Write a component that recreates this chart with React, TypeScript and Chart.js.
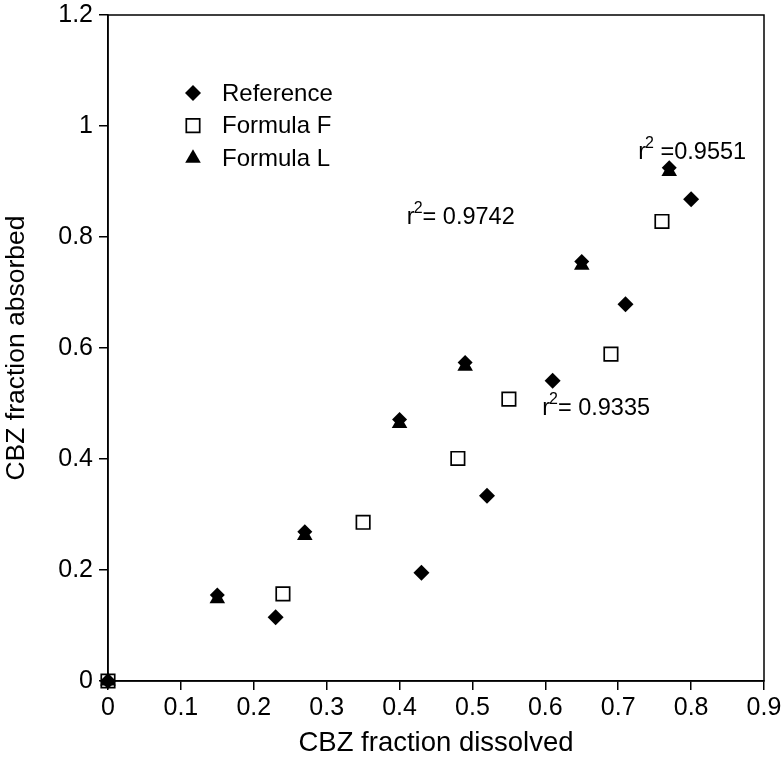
import React, { useEffect, useRef } from "react";
import { Chart, registerables } from "chart.js";

Chart.register(...registerables);

// ---- data ----
const referenceX = [0, 0.23, 0.43, 0.52, 0.61, 0.71, 0.8];
const referenceY = [0, 0.115, 0.195, 0.334, 0.541, 0.679, 0.868];

const formulaFX = [0, 0.24, 0.35, 0.48, 0.55, 0.69, 0.76];
const formulaFY = [0, 0.157, 0.286, 0.401, 0.508, 0.589, 0.828];

const formulaLX = [0, 0.15, 0.27, 0.4, 0.49, 0.65, 0.77];
const formulaLY = [0, 0.148, 0.262, 0.464, 0.567, 0.749, 0.918];

// diamonds drawn over the Formula L triangles in the original figure
const overlapX = [0.15, 0.27, 0.4, 0.49, 0.65, 0.77];
const overlapY = [0.155, 0.269, 0.471, 0.574, 0.756, 0.925];

const xTicks = [0, 0.1, 0.2, 0.3, 0.4, 0.5, 0.6, 0.7, 0.8, 0.9];
const yTicks = [0, 0.2, 0.4, 0.6, 0.8, 1, 1.2];

const legendLabels = ["Reference", "Formula F", "Formula L"];

// r² annotations: anchor (x, baseline y) and the text after the superscript
const annoX = [0.41, 0.7275, 0.5957];
const annoY = [0.823, 0.94, 0.479];
const annoText = ["= 0.9742", " =0.9551", "= 0.9335"];

const FONT = "'Liberation Sans', Arial, Helvetica, sans-serif";

const pts = (xs: number[], ys: number[]) => xs.map((x, i) => ({ x, y: ys[i] }));

export default function App() {
  const ref = useRef<HTMLCanvasElement>(null);

  useEffect(() => {
    document.body.style.margin = "0";
    const canvas = ref.current;
    if (!canvas) return;

    const framePlugin = {
      id: "frame",
      afterDraw(chart: any) {
        const { ctx, chartArea } = chart;
        const { left, top, right, bottom } = chartArea;
        ctx.save();
        ctx.strokeStyle = "#000";
        ctx.lineWidth = 1.5;
        ctx.strokeRect(left, top, right - left, bottom - top);

        // legend
        const lx = left + 85;
        const tx = left + 114;
        const ly0 = top + 78;
        const gap = 32.6;
        ctx.font = `24px ${FONT}`;
        ctx.fillStyle = "#000";
        ctx.textBaseline = "middle";
        ctx.textAlign = "left";
        legendLabels.forEach((lab, i) => {
          const cy = ly0 + i * gap;
          ctx.beginPath();
          if (i === 0) {
            const r = 8;
            ctx.moveTo(lx, cy - r);
            ctx.lineTo(lx + r, cy);
            ctx.lineTo(lx, cy + r);
            ctx.lineTo(lx - r, cy);
            ctx.closePath();
            ctx.fill();
          } else if (i === 1) {
            ctx.fillStyle = "#fff";
            ctx.rect(lx - 6.7, cy - 6.7, 13.4, 13.4);
            ctx.fill();
            ctx.lineWidth = 1.7;
            ctx.stroke();
            ctx.fillStyle = "#000";
          } else {
            const r = 9;
            ctx.moveTo(lx, cy - r);
            ctx.lineTo(lx + 0.866 * r, cy + r / 2);
            ctx.lineTo(lx - 0.866 * r, cy + r / 2);
            ctx.closePath();
            ctx.fill();
          }
          ctx.fillText(lab, tx, cy + 1);
        });

        // r² annotations
        const xs = chart.scales.x;
        const ys = chart.scales.y;
        ctx.textBaseline = "alphabetic";
        annoText.forEach((t, i) => {
          const px = xs.getPixelForValue(annoX[i]);
          const py = ys.getPixelForValue(annoY[i]);
          ctx.font = `23.5px ${FONT}`;
          ctx.fillText("r", px, py);
          const rw = ctx.measureText("r").width;
          ctx.font = `16px ${FONT}`;
          ctx.fillText("2", px + rw - 1, py - 11);
          const sw = ctx.measureText("2").width;
          ctx.font = `23.5px ${FONT}`;
          ctx.fillText(t, px + rw - 1 + sw, py);
        });
        ctx.restore();
      },
    };

    const chart = new Chart(canvas, {
      type: "scatter",
      data: {
        datasets: [
          {
            label: "Formula F",
            data: pts(formulaFX, formulaFY),
            pointStyle: "rect",
            pointRadius: 9.5,
            pointBackgroundColor: "#fff",
            pointBorderColor: "#000",
            pointBorderWidth: 1.7,
            order: 3,
            clip: false,
          },
          {
            label: "Reference",
            data: pts(referenceX, referenceY),
            pointStyle: "rectRot",
            pointRadius: 8,
            pointBackgroundColor: "#000",
            pointBorderColor: "#000",
            pointBorderWidth: 0,
            order: 2,
            clip: false,
          },
          {
            label: "Formula L",
            data: pts(formulaLX, formulaLY),
            pointStyle: "triangle",
            pointRadius: 9,
            pointBackgroundColor: "#000",
            pointBorderColor: "#000",
            pointBorderWidth: 0,
            order: 1,
            clip: false,
          },
          {
            label: "overlap",
            data: pts(overlapX, overlapY),
            pointStyle: "rectRot",
            pointRadius: 7.5,
            pointBackgroundColor: "#000",
            pointBorderColor: "#000",
            pointBorderWidth: 0,
            order: 0,
            clip: false,
          },
        ],
      },
      options: {
        responsive: false,
        animation: false,
        events: [],
        layout: { padding: { top: 15, right: 19, left: 0, bottom: 0 } },
        plugins: {
          legend: { display: false },
          tooltip: { enabled: false },
        },
        scales: {
          x: {
            type: "linear",
            min: 0,
            max: 0.9,
            afterBuildTicks: (s: any) => {
              s.ticks = xTicks.map((v) => ({ value: v }));
            },
            afterFit: (s: any) => {
              s.height = 86;
              s.paddingLeft = 0;
              s.paddingRight = 0;
            },
            ticks: {
              color: "#000",
              font: { family: FONT, size: 25, lineHeight: 1 },
              padding: 6,
              maxRotation: 0,
              autoSkip: false,
              callback: (v: any) => String(Math.round(Number(v) * 10) / 10),
            },
            grid: {
              display: true,
              drawOnChartArea: false,
              drawTicks: true,
              tickLength: 9,
              color: "#000",
              lineWidth: 1.5,
            },
            border: { display: true, color: "#000", width: 1.5 },
            title: {
              display: true,
              text: "CBZ fraction dissolved",
              color: "#000",
              font: { family: FONT, size: 27.5 },
              padding: { top: 0, bottom: 7 },
            },
          },
          y: {
            type: "linear",
            min: 0,
            max: 1.2,
            afterBuildTicks: (s: any) => {
              s.ticks = yTicks.map((v) => ({ value: v }));
            },
            afterFit: (s: any) => {
              s.width = 108;
              s.paddingTop = 0;
              s.paddingBottom = 0;
            },
            ticks: {
              color: "#000",
              font: { family: FONT, size: 25, lineHeight: 1 },
              padding: 6,
              autoSkip: false,
              callback: (v: any) => String(Math.round(Number(v) * 10) / 10),
            },
            grid: {
              display: true,
              drawOnChartArea: false,
              drawTicks: true,
              tickLength: 9,
              color: "#000",
              lineWidth: 1.5,
            },
            border: { display: true, color: "#000", width: 1.5 },
            title: {
              display: true,
              text: "CBZ fraction absorbed",
              color: "#000",
              font: { family: FONT, size: 26.5 },
              padding: { top: 1, bottom: 0 },
            },
          },
        },
      },
      plugins: [framePlugin],
    });

    return () => chart.destroy();
  }, []);

  return (
    <div style={{ width: 783, height: 767 }}>
      <canvas ref={ref} width={783} height={767} style={{ display: "block" }} />
    </div>
  );
}
